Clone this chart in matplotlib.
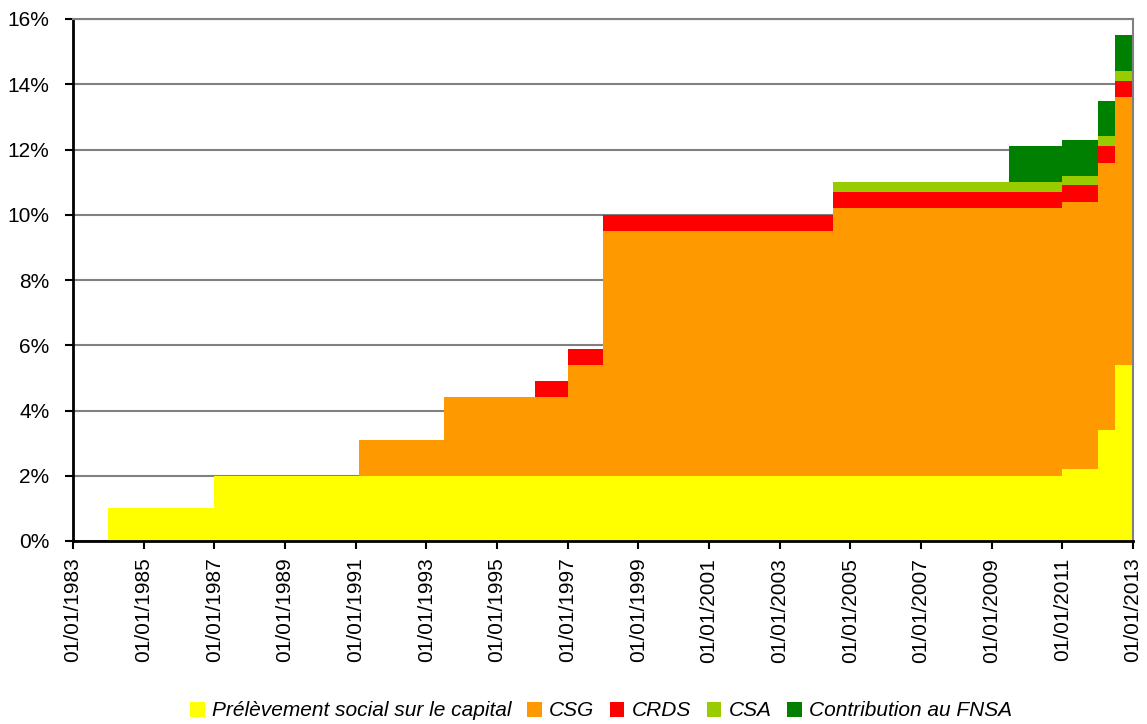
import matplotlib
matplotlib.use("Agg")
import matplotlib.pyplot as plt
import matplotlib.dates as mdates
from matplotlib.ticker import FuncFormatter, MultipleLocator, FixedLocator
from matplotlib.patches import Patch
import numpy as np
import pandas as pd

# ---- data (rates in %, piecewise constant from each date to the next) ----
dates = ["1983-01-01", "1984-01-01", "1987-01-01", "1991-02-01", "1993-07-01",
         "1996-02-01", "1997-01-01", "1998-01-01", "2004-07-01", "2009-07-01",
         "2011-01-01", "2012-01-01", "2012-07-01", "2013-01-01"]
prelevement = [0, 1, 2, 2, 2, 2, 2, 2, 2, 2, 2.2, 3.4, 5.4, 5.4]
csg = [0, 0, 0, 1.1, 2.4, 2.4, 3.4, 7.5, 8.2, 8.2, 8.2, 8.2, 8.2, 8.2]
crds = [0, 0, 0, 0, 0, 0.5, 0.5, 0.5, 0.5, 0.5, 0.5, 0.5, 0.5, 0.5]
csa = [0, 0, 0, 0, 0, 0, 0, 0, 0.3, 0.3, 0.3, 0.3, 0.3, 0.3]
fnsa = [0, 0, 0, 0, 0, 0, 0, 0, 0, 1.1, 1.1, 1.1, 1.1, 1.1]

tick_years = list(range(1983, 2014, 2))

labels = ["Prélèvement social sur le capital", "CSG", "CRDS", "CSA",
          "Contribution au FNSA"]
colors = ["#FFFF00", "#FF9900", "#FF0000", "#99CC00", "#008000"]

plt.rcParams['font.family'] = ['Liberation Sans', 'DejaVu Sans']

x = pd.to_datetime(dates)
series = [prelevement, csg, crds, csa, fnsa]

fig = plt.figure(figsize=(11.47, 7.24), dpi=100)
ax = fig.add_axes([73 / 1147, 1 - 541 / 724, (1133 - 73) / 1147, (541 - 19) / 724])

base = np.zeros(len(dates))
for vals, col in zip(series, colors):
    top = base + np.array(vals, dtype=float)
    ax.fill_between(x, base, top, step="post", facecolor=col, linewidth=0,
                    zorder=2)
    base = top

ax.set_xlim(pd.Timestamp("1983-01-01"), pd.Timestamp("2013-01-01"))
ax.set_ylim(0, 16)
ax.yaxis.set_major_locator(MultipleLocator(2))
ax.yaxis.set_major_formatter(FuncFormatter(lambda v, p: f"{v:.0f}%"))
tick_pos = mdates.date2num(pd.to_datetime([f"{y}-01-01" for y in tick_years]))
ax.xaxis.set_major_locator(FixedLocator(tick_pos))
ax.xaxis.set_major_formatter(mdates.DateFormatter("%d/%m/%Y"))

ax.grid(axis="y", color="#808080", linewidth=1.5, zorder=1)
ax.set_axisbelow(True)

for lab in ax.get_xticklabels():
    lab.set_rotation(90)
ax.tick_params(axis="x", labelsize=15, length=6, width=1.5, pad=6,
               direction="out")
ax.tick_params(axis="y", labelsize=15, length=6, width=1.5, pad=11,
               direction="out")

ax.spines["left"].set_color("black")
ax.spines["left"].set_linewidth(2)
ax.spines["bottom"].set_color("black")
ax.spines["bottom"].set_linewidth(2)
ax.spines["bottom"].set_zorder(5)
ax.spines["right"].set_color("#808080")
ax.spines["right"].set_linewidth(1.5)
ax.spines["top"].set_color("#808080")
ax.spines["top"].set_linewidth(1.5)

handles = [Patch(facecolor=c, edgecolor="none") for c in colors]
leg = fig.legend(handles, labels, loc="center", ncol=5,
                 bbox_to_anchor=(601 / 1147, 1 - 711 / 724), frameon=False,
                 prop={"style": "italic", "size": 15},
                 handlelength=0.7, handleheight=0.75, handletextpad=0.35,
                 columnspacing=0.75, borderaxespad=0)

fig.savefig("out.png", dpi=100)
